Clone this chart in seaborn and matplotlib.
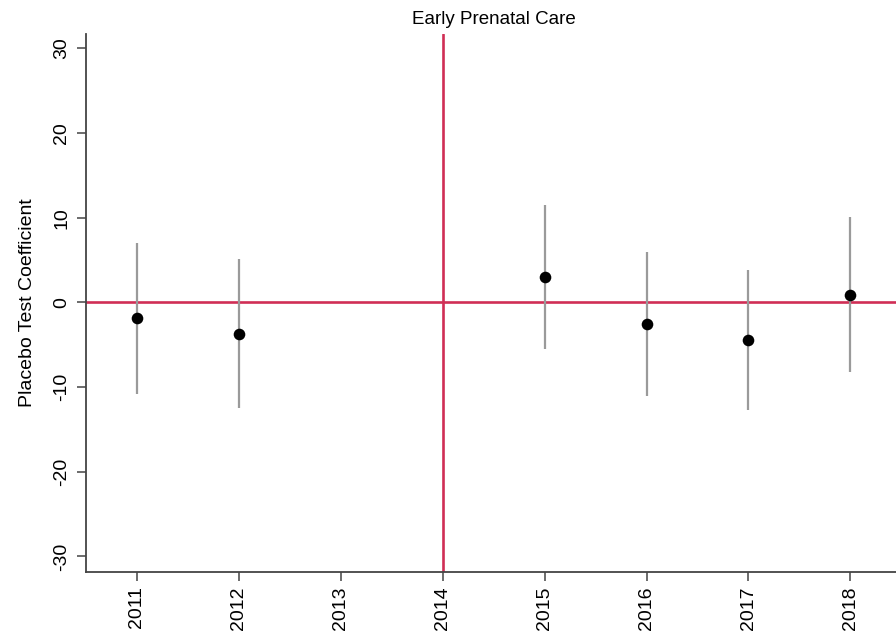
import numpy as np
import pandas as pd
import matplotlib
matplotlib.use("Agg")
import matplotlib.pyplot as plt
import seaborn as sns

years = [2011, 2012, 2015, 2016, 2017, 2018]
coef  = [-1.9, -3.7, 3.0, -2.55, -4.45, 0.9]
ci_lo = [-10.8, -12.5, -5.45, -11.1, -12.75, -8.25]
ci_hi = [7.0, 5.15, 11.45, 5.9, 3.85, 10.1]
tick_years = [2011, 2012, 2013, 2014, 2015, 2016, 2017, 2018]
y_ticks = [-30, -20, -10, 0, 10, 20, 30]

RED  = "#D02E55"
GREY = "#9A9A9A"
AXC  = "#444444"

df = pd.DataFrame({"year": years, "coef": coef, "lo": ci_lo, "hi": ci_hi})

sns.set_style("ticks")
plt.rcParams["font.family"] = ["Liberation Sans", "DejaVu Sans"]
plt.rcParams["text.color"] = "black"
plt.rcParams["axes.labelcolor"] = "black"

fig = plt.figure(figsize=(8.96, 6.35), dpi=100)
ax = fig.add_axes([0.096, 0.0997, 0.91, 0.847])

ax.axhline(0, color=RED, lw=1.9, zorder=1)
ax.axvline(2014, color=RED, lw=1.9, zorder=1)

ax.vlines(df["year"], df["lo"], df["hi"], color=GREY, lw=1.6, zorder=2)
sns.scatterplot(data=df, x="year", y="coef", ax=ax, color="black",
                s=70, edgecolor="black", linewidth=0, zorder=3)

ax.set_xlim(2010.5, 2018.5)
ax.set_ylim(-31.8, 31.7)
ax.set_xticks(tick_years)
ax.set_xticklabels([str(y) for y in tick_years], rotation=90, fontsize=14)
ax.set_yticks(y_ticks)
ax.set_yticklabels([str(v) for v in y_ticks], rotation=90, va="center", fontsize=14)
ax.tick_params(axis="both", direction="out", length=6.5, width=1.1, color=AXC,
               labelcolor="black")
ax.tick_params(axis="y", pad=5)
ax.tick_params(axis="x", pad=4)

ax.set_xlabel("")
ax.set_ylabel("Placebo Test Coefficient", fontsize=14, labelpad=12)
ax.set_title("Early Prenatal Care", fontsize=13.5, pad=7)

for side in ["top", "right"]:
    ax.spines[side].set_visible(False)
for side in ["left", "bottom"]:
    ax.spines[side].set_color(AXC)
    ax.spines[side].set_linewidth(1.3)

fig.savefig("out.png", dpi=100, facecolor="white")
